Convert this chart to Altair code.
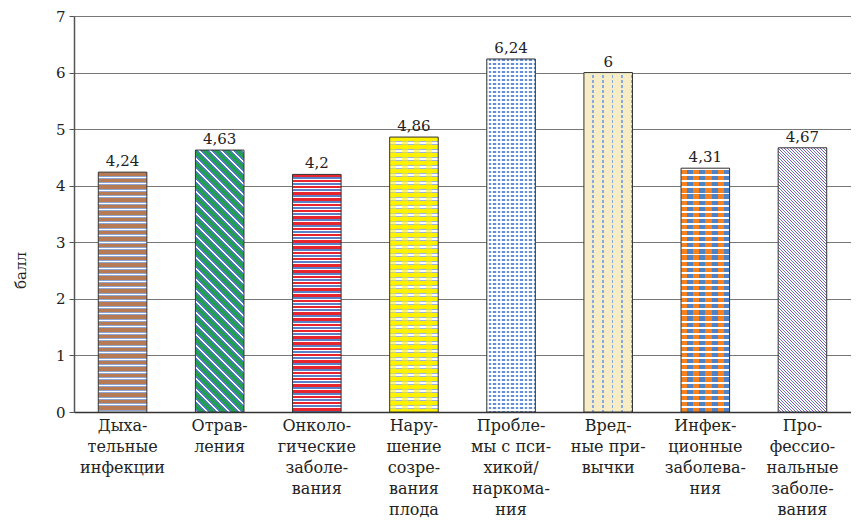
import math
import altair as alt
import pandas as pd

categories = [
    "Дыхательные инфекции",
    "Отравления",
    "Онкологические заболевания",
    "Нарушение созревания плода",
    "Проблемы с психикой/наркомания",
    "Вредные привычки",
    "Инфекционные заболевания",
    "Профессиональные заболевания",
]
axis_labels = [
    "Дыха-\nтельные\nинфекции",
    "Отрав-\nления",
    "Онколо-\nгические\nзаболе-\nвания",
    "Нару-\nшение\nсозре-\nвания\nплода",
    "Пробле-\nмы с пси-\nхикой/\nнаркома-\nния",
    "Вред-\nные при-\nвычки",
    "Инфек-\nционные\nзаболева-\nния",
    "Про-\nфессио-\nнальные\nзаболе-\nвания",
]
values = [4.24, 4.63, 4.2, 4.86, 6.24, 6, 4.31, 4.67]
y_ticks = [0, 1, 2, 3, 4, 5, 6, 7]

W, H = 777, 396
YMAX = 7
STEP = W / len(categories)
BW = STEP * 0.5

FONT = "'DejaVu Serif', 'Liberation Serif', serif"

df = pd.DataFrame({"i": list(range(len(categories))), "cat": categories,
                   "lab": axis_labels, "v": values})


def make_stops(pattern, n):
    stops = []
    k = 0
    done = False
    while not done:
        cum = 0.0
        for color, frac in pattern:
            a = (k + cum) / n
            b = (k + cum + frac) / n
            cum += frac
            if a >= 1:
                done = True
                break
            stops.append({"offset": round(a, 5), "color": color})
            stops.append({"offset": round(min(b, 1.0), 5), "color": color})
            if b >= 1:
                done = True
                break
        k += 1
    return stops


def horiz(pattern, period, w, h):
    return {"gradient": "linear", "x1": 0, "y1": 0, "x2": 0, "y2": 1,
            "stops": make_stops(pattern, h / period)}


def vert(pattern, period, w, h):
    return {"gradient": "linear", "x1": 0, "y1": 0, "x2": 1, "y2": 0,
            "stops": make_stops(pattern, w / period)}


def diag(pattern, period, w, h):
    s = w * w + h * h
    return {"gradient": "linear", "x1": 1, "y1": 0,
            "x2": round(1 - w * (h + w) / s, 6), "y2": round(h * (h + w) / s, 6),
            "stops": make_stops(pattern, (h + w) / period)}


BLUE = "#5a80c8"
patterns = [
    [(horiz, [("#b67a55", 0.58), ("#8fa5d2", 0.1), ("#ffffff", 0.22), ("#8fa5d2", 0.1)], 6.5)],
    [(diag, [("#ffffff", 0.25), ("#4f7bc4", 0.15), ("#22a050", 0.45), ("#4f7bc4", 0.15)], 11)],
    [(horiz, [("#e8242c", 0.35), ("#ffffff", 0.15), (BLUE, 0.3), ("#ffffff", 0.2)], 6)],
    [(horiz, [("#fff200", 0.5), ("#9ab2dc", 0.1), ("#ffffff", 0.3), ("#9ab2dc", 0.1)], 8),
     (vert, [("rgba(255,242,0,0.55)", 0.5), ("rgba(255,255,255,0)", 0.5)], 12)],
    [(horiz, [("#6190d8", 0.5), ("#ffffff", 0.5)], 4),
     (vert, [("rgba(255,255,255,0.85)", 0.4), ("rgba(255,255,255,0)", 0.6)], 4.5)],
    [(vert, [("#f6ecc6", 0.82), ("#86aadf", 0.18)], 9.8),
     (horiz, [("#f6ecc6", 0.4), ("rgba(246,236,198,0)", 0.6)], 5)],
    [(vert, [("#f5821f", 0.5), ("#4f81c6", 0.5)], 12.2),
     (horiz, [("#ffffff", 0.3), ("rgba(255,255,255,0)", 0.7)], 6.1)],
    [(diag, [("#8a4fb0", 0.3), ("#ffffff", 0.2), (BLUE, 0.3), ("#ffffff", 0.2)], 6)],
]

x_enc = alt.X("lab:N", sort=axis_labels,
              scale=alt.Scale(domain=axis_labels, paddingInner=0.5, paddingOuter=0.25),
              axis=alt.Axis(title=None, labelAngle=0, ticks=False,
                            labelExpr="split(datum.label, '\\n')",
                            labelFont=FONT, labelFontSize=16, labelLineHeight=21,
                            labelColor="#222222", labelPadding=5, labelBaseline="top",
                            domainColor="#333333", domainWidth=1.5))
y_enc = alt.Y("v:Q", scale=alt.Scale(domain=[0, YMAX], nice=False),
              axis=alt.Axis(title="балл", values=y_ticks, format="d",
                            labelFont=FONT, labelFontSize=15, labelColor="#222222",
                            labelPadding=4, tickSize=5, tickColor="#555555",
                            domainColor="#555555", domainWidth=1.5,
                            gridColor="#777777", gridWidth=1,
                            titleFont=FONT, titleFontSize=15, titleFontWeight="normal",
                            titleColor="#222222", titleAngle=270,
                            titleX=-54, titleY=254, titleBaseline="middle", titleAlign="center"))

base = alt.Chart(df)
layers = []
for idx, v in enumerate(values):
    h = v / YMAX * H
    for fn, pat, period in patterns[idx]:
        grad = fn(pat, period, BW, h)
        layers.append(
            base.transform_filter(alt.datum.i == idx)
            .mark_bar(fill=grad, strokeWidth=0)
            .encode(x=x_enc, y=y_enc)
        )

outline = base.mark_bar(fillOpacity=0, stroke="#333333", strokeWidth=1).encode(x=x_enc, y=y_enc)
texts = (base.transform_calculate(t="replace(toString(datum.v), '.', ',')")
         .mark_text(baseline="bottom", dy=-3, font=FONT, fontSize=15, color="#222222")
         .encode(x=x_enc, y=y_enc, text="t:N"))

chart = alt.layer(*layers, outline, texts).properties(
    width=W, height=H,
    padding={"left": 66, "top": 8, "right": 0, "bottom": 109},
    autosize=alt.AutoSizeParams(type="none"),
).configure_view(strokeWidth=0).configure_axis(grid=True).configure_axisX(grid=False)

chart.save("out.html", embed_options={"renderer": "svg", "actions": False})
